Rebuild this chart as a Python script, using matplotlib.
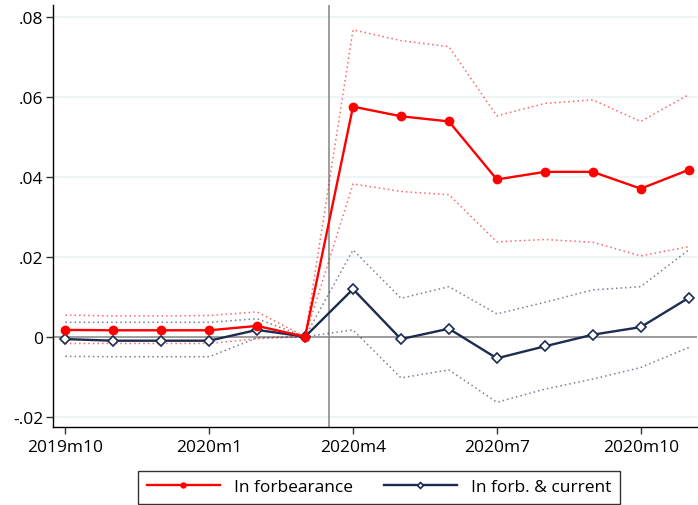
import matplotlib
matplotlib.use("Agg")
import matplotlib.pyplot as plt
import numpy as np

plt.rcParams['font.family'] = ['Open Sans', 'DejaVu Sans']

months = ["2019m10", "2019m11", "2019m12", "2020m1", "2020m2", "2020m3", "2020m4",
          "2020m5", "2020m6", "2020m7", "2020m8", "2020m9", "2020m10", "2020m11"]
tick_labels = ["2019m10", "2020m1", "2020m4", "2020m7", "2020m10"]
tick_idx = [0, 3, 6, 9, 12]

forb = [0.0017, 0.0016, 0.0016, 0.0016, 0.0027, 0.0, 0.0575, 0.0551, 0.0538,
        0.0393, 0.0412, 0.0412, 0.0370, 0.0417]
forb_hi = [0.0054, 0.0052, 0.0052, 0.0053, 0.0062, 0.0, 0.0767, 0.0740, 0.0725,
           0.0552, 0.0583, 0.0592, 0.0538, 0.0605]
forb_lo = [-0.0017, -0.0017, -0.0017, -0.0017, -0.0005, 0.0, 0.0382, 0.0363, 0.0355,
           0.0237, 0.0243, 0.0236, 0.0202, 0.0225]

cur = [-0.0006, -0.0010, -0.0010, -0.0010, 0.0017, 0.0, 0.0119, -0.0006, 0.0020,
       -0.0054, -0.0024, 0.0005, 0.0024, 0.0097]
cur_hi = [0.0036, 0.0036, 0.0036, 0.0036, 0.0045, 0.0, 0.0217, 0.0096, 0.0125,
          0.0057, 0.0086, 0.0117, 0.0125, 0.0217]
cur_lo = [-0.0049, -0.0050, -0.0050, -0.0050, -0.0003, 0.0, 0.0017, -0.0103, -0.0083,
          -0.0164, -0.0131, -0.0106, -0.0077, -0.0027]

red = '#ff0000'
navy = '#1c2b4f'

fig = plt.figure(figsize=(6.98, 5.06), dpi=100)
ax = fig.add_axes([0.0764, 0.1547, 0.9226, 0.8334])
x = np.arange(len(months))

ax.set_xlim(-0.25, 13.18)
ax.set_ylim(-0.0225, 0.0829)
yt = [-0.02, 0, 0.02, 0.04, 0.06, 0.08]
ax.set_yticks(yt)
ax.set_yticklabels(["-.02", "0", ".02", ".04", ".06", ".08"])
ax.set_xticks(tick_idx)
ax.set_xticklabels(tick_labels)
for v in yt:
    if v != 0:
        ax.axhline(v, color='#eaf2f3', lw=1.2, zorder=0)
ax.axhline(0, color='#8c8c8c', lw=1.2, zorder=1)
ax.axvline(5.5, color='#8c8c8c', lw=1.2, zorder=1)

ax.plot(x, forb_hi, color=red, alpha=0.6, lw=1.1, ls=(0, (1, 2.0)), zorder=2)
ax.plot(x, forb_lo, color=red, alpha=0.6, lw=1.1, ls=(0, (1, 2.0)), zorder=2)
ax.plot(x, cur_hi, color=navy, alpha=0.6, lw=1.1, ls=(0, (1, 2.0)), zorder=2)
ax.plot(x, cur_lo, color=navy, alpha=0.6, lw=1.1, ls=(0, (1, 2.0)), zorder=2)

l1, = ax.plot(x, forb, color=red, lw=1.7, marker='o', ms=6, zorder=4,
              label='In forbearance')
l2, = ax.plot(x, cur, color=navy, lw=1.7, marker='D', ms=5, mfc='white',
              mec=navy, mew=1.2, zorder=3, label='In forb. & current')

for s in ['top', 'right']:
    ax.spines[s].set_visible(False)
ax.spines['left'].set_linewidth(1.0)
ax.spines['bottom'].set_linewidth(1.0)
ax.tick_params(axis='x', labelsize=12.5, length=5, width=1.0, color='#333333', pad=4)
ax.tick_params(axis='y', labelsize=12.5, length=5, width=1.0, color='#333333', pad=2)

leg = fig.legend(handles=[l1, l2], loc='lower center', bbox_to_anchor=(0.543, 0.0),
                 ncol=2, fontsize=12.5, frameon=True, fancybox=False,
                 edgecolor='black', markerscale=0.6, handlelength=4.2,
                 columnspacing=1.8, borderpad=0.5, borderaxespad=0.05)
leg.get_frame().set_linewidth(1.0)

fig.savefig('out.png', dpi=100)
